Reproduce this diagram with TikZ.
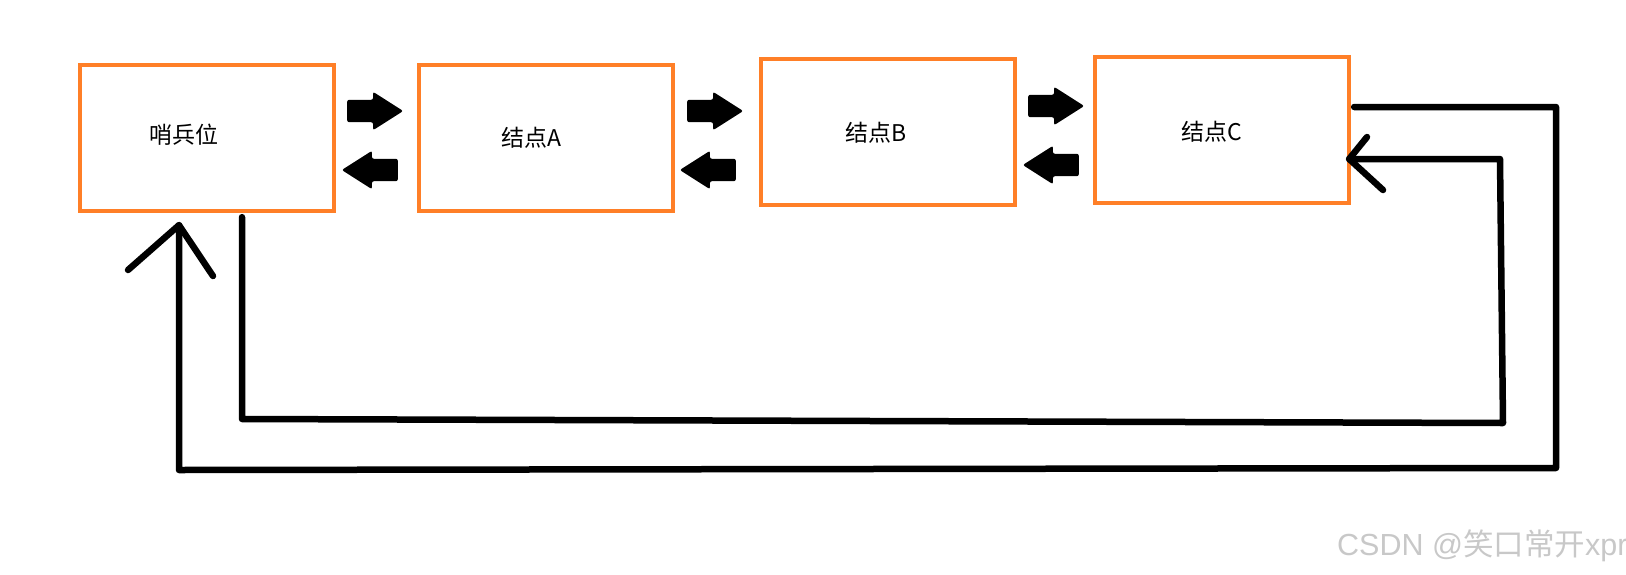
\documentclass[tikz,border=0pt]{standalone}
\usepackage{fontspec}
\setmainfont{Liberation Sans}
\newfontfamily\cjk{Noto Sans CJK SC}
\usetikzlibrary{shapes.arrows}
\definecolor{boxorange}{HTML}{FF7F27}
\definecolor{wmgray}{HTML}{C8C8C8}
\begin{document}
\begin{tikzpicture}[x=1pt,y=-1pt,
  box/.style={draw=boxorange, line width=4.3pt, minimum width=254pt, minimum height=146pt, inner sep=0pt},
  lbl/.style={font=\cjk\fontsize{23}{27}\selectfont, inner sep=0pt},
  blk/.style={single arrow, fill=black, draw=none, text width=0pt, text height=11pt, text depth=11pt,
    minimum height=56pt, minimum width=38pt, anchor=tail,
    single arrow head extend=8pt, single arrow tip angle=65, inner sep=0pt, rounded corners=2pt},
  blkL/.style={blk, shape border rotate=180},
  conn/.style={line width=6.5pt, line cap=round, line join=round},
]
\useasboundingbox (0,0) rectangle (1626,574);
% boxes
\node[box] (s) at (207,138) {};
\node[box] (a) at (546,138) {};
\node[box] (b) at (888,132) {};
\node[box] (c) at (1222,130) {};
% labels
\node[lbl] (ts) at (184,135) {哨兵位};
\node[lbl] (ta) at (531,138) {结点A};
\node[lbl] (tb) at (876,133) {结点B};
\node[lbl] (tc) at (1212,132) {结点C};
% block arrows (placed by their tails)
\node[blk]  (sa) at (347,111) {};
\node[blkL] (as) at (398,170) {};
\node[blk]  (ab) at (687,111) {};
\node[blkL] (ba) at (736,170) {};
\node[blk]  (bc) at (1028,106) {};
\node[blkL] (cb) at (1079,165) {};
% loop connectors
\coordinate (tipS) at ([xshift=-28pt,yshift=-12pt]s.south);
\coordinate (tipC) at ([xshift=-2pt,yshift=-29pt]c.east);
\coordinate (o1) at (1556,107);
\coordinate (o2) at (1556,468);
\coordinate (o3) at (179,470);
\coordinate (i1) at (242,419);
\coordinate (i2) at (1503,423);
\coordinate (i3) at (1500,159);
\draw[conn] ([xshift=3pt,yshift=23pt]c.east) -- (o1) -- (o2) -- (o3) -- (tipS);
\draw[conn] (128,270) -- (tipS) -- (213,276);
\draw[conn] ([xshift=35pt,yshift=-4pt]s.south) -- (i1) -- (i2) -- (i3) -- (tipC);
\draw[conn] (1367,137) -- (tipC) -- (1383,190);
% watermark
\node[anchor=west, text=wmgray, font=\fontsize{30.5}{33}\selectfont, inner sep=0pt] (wm) at (1337,546) {CSDN @{\cjk 笑口常开}xpr};
\end{tikzpicture}
\end{document}
